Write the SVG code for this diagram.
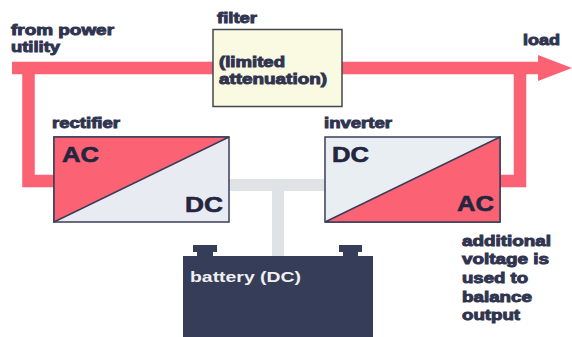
<svg xmlns="http://www.w3.org/2000/svg" width="572" height="337" viewBox="0 0 572 337">
<style>
text{font-family:"Liberation Sans",Arial,sans-serif;font-weight:700;fill:#30344f}
.l{font-size:14px;stroke:#30344f;stroke-width:.9px}
.b{font-size:22px;fill:#24263f;stroke:#24263f;stroke-width:.6px}
.box{stroke:#3a3c58;stroke-width:1.5}
.pw{fill:none;stroke:#fb6273;stroke-width:12.5}
.dc{fill:none;stroke:#dfe3e6;stroke-width:12}
</style>
<rect width="572" height="337" fill="#fff"/>
<g id="connectors">
<path class="pw" d="M12 68H552"/>
<path d="M538 55L572 68L538 81Z" fill="#fb6273"/>
<path class="pw" d="M28.500 68V181H56"/>
<path class="pw" d="M520 68V181H500"/>
<path class="dc" d="M228 185H326"/>
<path class="dc" d="M278 185V256"/>
</g>
<g id="rectifier">
<rect class="box" x="54" y="137" width="175" height="85" fill="#e9ebf2"/>
<path d="M54 222V137H229Z" fill="#fb6273" stroke="#3a3c58" stroke-width="1.5"/>
<text class="l" x="52" y="128" textLength="68" lengthAdjust="spacingAndGlyphs">rectifier</text>
<text class="b" x="62" y="162" textLength="37" lengthAdjust="spacingAndGlyphs">AC</text>
<text class="b" x="185" y="212" textLength="38" lengthAdjust="spacingAndGlyphs">DC</text>
</g>
<g id="inverter">
<rect class="box" x="325" y="137" width="175" height="85" fill="#e9eef2"/>
<path d="M325 222L500 137V222Z" fill="#fb6273" stroke="#3a3c58" stroke-width="1.5"/>
<text class="l" x="324" y="128" textLength="68" lengthAdjust="spacingAndGlyphs">inverter</text>
<text class="b" x="332" y="162" textLength="37" lengthAdjust="spacingAndGlyphs">DC</text>
<text class="b" x="457" y="211" textLength="37" lengthAdjust="spacingAndGlyphs">AC</text>
</g>
<g id="filter">
<rect x="213" y="29.500" width="129" height="77" fill="#fafae3" stroke="#45454f" stroke-width="1.5"/>
<text class="l" x="217" y="23" textLength="40" lengthAdjust="spacingAndGlyphs">filter</text>
<text class="l" x="219" y="67" textLength="66" lengthAdjust="spacingAndGlyphs">(limited</text>
<text class="l" x="219" y="84" textLength="108" lengthAdjust="spacingAndGlyphs">attenuation)</text>
</g>
<g id="battery">
<path d="M183 256H197V252H193V245H217V252H213V256H343V252H339V245H362V252H358V256H373V337H183Z" fill="#363d59"/>
<text x="190" y="282" font-size="14" style="fill:#f0f0f0" textLength="111" lengthAdjust="spacingAndGlyphs">battery (DC)</text>
</g>
<g id="labels">
<text class="l" x="11" y="35" textLength="103" lengthAdjust="spacingAndGlyphs">from power</text>
<text class="l" x="11" y="52" textLength="49" lengthAdjust="spacingAndGlyphs">utility</text>
<text class="l" x="523" y="45" textLength="37" lengthAdjust="spacingAndGlyphs">load</text>
<text class="l" x="462" y="246" textLength="89" lengthAdjust="spacingAndGlyphs">additional</text>
<text class="l" x="462" y="264" textLength="87" lengthAdjust="spacingAndGlyphs">voltage is</text>
<text class="l" x="462" y="283" textLength="66" lengthAdjust="spacingAndGlyphs">used to</text>
<text class="l" x="462" y="302" textLength="70" lengthAdjust="spacingAndGlyphs">balance</text>
<text class="l" x="462" y="320" textLength="58" lengthAdjust="spacingAndGlyphs">output</text>
</g>
</svg>
